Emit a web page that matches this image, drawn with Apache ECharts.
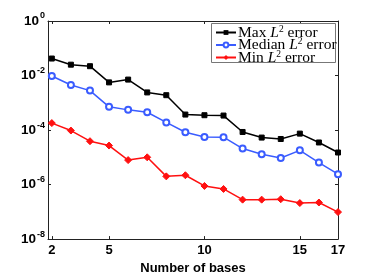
<!DOCTYPE html>
<html><head><meta charset="utf-8">
<script src="https://cdn.jsdelivr.net/npm/echarts@6/dist/echarts.min.js"></script>
<style>html,body{margin:0;padding:0;background:#fff}#c{width:374px;height:280px}</style>
</head><body><div id="c"></div>
<script>
const bases = [2,3,4,5,6,7,8,9,10,11,12,13,14,15,16,17];
const maxErr = [4.2e-2,2.5e-2,2.2e-2,5.6e-3,7.1e-3,2.4e-3,1.9e-3,3.7e-4,3.5e-4,3.4e-4,8.5e-5,5.3e-5,4.7e-5,7.4e-5,3.5e-5,1.5e-5];
const medianErr = [9.6e-3,4.5e-3,2.8e-3,7.1e-4,5.5e-4,4.5e-4,1.9e-4,8.3e-5,5.6e-5,5.5e-5,2.1e-5,1.3e-5,9.4e-6,1.8e-5,6.4e-6,2.4e-6];
const minErr = [1.8e-4,9.6e-5,3.9e-5,2.7e-5,7.9e-6,1.0e-5,2.0e-6,2.2e-6,8.9e-7,6.9e-7,2.8e-7,2.8e-7,2.9e-7,2.1e-7,2.2e-7,9.8e-8];
const xTicks = [2,5,10,15,17];
const yTicks = [1e-8,1e-6,1e-4,1e-2,1];
const seriesNames = ['Max', 'Median', 'Min'];

const chart = echarts.init(document.getElementById('c'), null, {renderer:'canvas'});
const axisLineStyle = {color:'#222', width:1};
const yFmt = v => '{b|10}{s|' + Math.round(Math.log10(v)) + '}';
const mk = (name, data, color, symbol, size) => ({
  name: name, type:'line', data: bases.map((b,i)=>[b,data[i]]),
  symbol: symbol, symbolSize: size, showSymbol:true, showAllSymbol:true,
  lineStyle:{color:color, width:1.5, type:'solid'}, itemStyle:{color:color, borderColor:color},
  emphasis:{disabled:true}, animation:false
});

chart.setOption({
  animation:false,
  grid:{left:48, right:36, top:21, bottom:32},
  graphic:[{type:'rect', left:211, top:23, z:100, shape:{width:124, height:39},
    style:{fill:'#fff', stroke:'#777', lineWidth:1}}],
  legend:{
    orient:'vertical', left:211, top:24, itemWidth:20, itemHeight:6, itemGap:-4, z:101,
    padding:[0,4,0,4],
    textStyle:{fontFamily:'Liberation Serif', fontSize:15.5, color:'#000', lineHeight:13, padding:[0,0,0,-3],
      rich:{a:{fontFamily:'Liberation Serif', fontSize:15.5, color:'#000'},
            i:{fontFamily:'Liberation Serif', fontStyle:'italic', fontSize:15.5, color:'#000'},
            s:{fontFamily:'Liberation Serif', fontSize:9.5, color:'#000', padding:[0,0,7,0]}}},
    formatter: n => '{a|' + n + ' }{i|L}{s|2}{a| error}',
    data: seriesNames
  },
  xAxis:[{
    type:'value', min:1.8, max:17, position:'bottom',
    axisLine:{show:true, lineStyle:axisLineStyle}, splitLine:{show:false},
    axisTick:{show:true, inside:true, length:3, customValues:xTicks, lineStyle:axisLineStyle},
    axisLabel:{customValues:xTicks, fontFamily:'Liberation Sans', fontWeight:'bold', fontSize:13, color:'#000', margin:5},
    name:'Number of bases', nameLocation:'middle', nameGap:18,
    nameTextStyle:{fontFamily:'Liberation Sans', fontWeight:'bold', fontSize:13, color:'#000'}
  },{
    type:'value', min:1.8, max:17, position:'top',
    axisLine:{show:true, lineStyle:axisLineStyle}, splitLine:{show:false},
    axisTick:{show:true, inside:true, length:3, customValues:xTicks, lineStyle:axisLineStyle},
    axisLabel:{show:false}
  }],
  yAxis:[{
    type:'log', logBase:10, min:1e-8, max:1, position:'left',
    axisLine:{show:true, lineStyle:axisLineStyle}, splitLine:{show:false},
    axisTick:{show:true, inside:true, length:3, customValues:yTicks, lineStyle:axisLineStyle},
    minorTick:{show:false},
    axisLabel:{customValues:yTicks, formatter:yFmt, margin:3, color:'#000',
      rich:{b:{fontFamily:'Liberation Sans', fontWeight:'bold', fontSize:13.5, color:'#000'},
            s:{fontFamily:'Liberation Sans', fontWeight:'bold', fontSize:9, color:'#000', padding:[0,0,10,1]}}}
  },{
    type:'log', logBase:10, min:1e-8, max:1, position:'right',
    axisLine:{show:true, lineStyle:axisLineStyle}, splitLine:{show:false},
    axisTick:{show:true, inside:true, length:3, customValues:yTicks, lineStyle:axisLineStyle},
    axisLabel:{show:false}
  }],
  series:[
    mk('Max', maxErr, '#000000', 'rect', 5),
    mk('Median', medianErr, '#3a5cff', 'emptyCircle', 6),
    mk('Min', minErr, '#ff1010', 'diamond', 7)
  ]
});
</script>
</body></html>
